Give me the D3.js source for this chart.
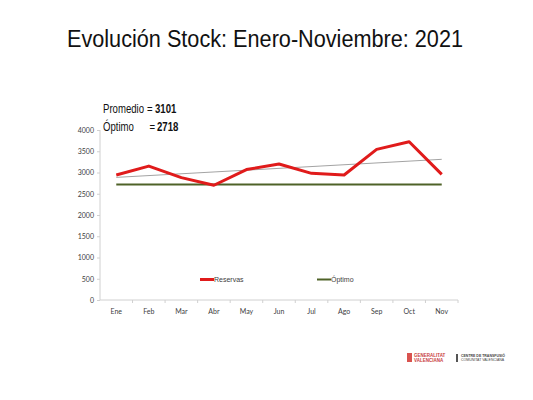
<!DOCTYPE html>
<html lang="es">
<head>
  <meta charset="utf-8">
  <script src="https://d3js.org/d3.v7.min.js"></script>
  <style>
    body { margin: 0; background: #fff; }
    svg text { font-family: "Liberation Sans", Arial, sans-serif; }
    .axis text { font-family: Lato, "Open Sans", sans-serif; font-size: 7px; fill: #404040; }
    .axis path, .axis line { stroke: #d0d0d0; }
  </style>
</head>
<body>
  <svg id="chart" width="533" height="400"></svg>

  <script>
    // data
    const months = ["Ene", "Feb", "Mar", "Abr", "May", "Jun", "Jul", "Ago", "Sep", "Oct", "Nov"];
    const reservas = [2940, 3150, 2880, 2700, 3070, 3200, 2980, 2940, 3545, 3725, 2957];
    const optimo = 2718;
    const promedio = 3101;
    const trend = [2885, 3310];   // linear trend at Ene and Nov
    const yTicks = [0, 500, 1000, 1500, 2000, 2500, 3000, 3500, 4000];

    const svg = d3.select("#chart");

    // title (narrow look by squeezing)
    svg.append("text")
      .attr("x", 67).attr("y", 47)
      .attr("font-size", 23)
      .attr("textLength", 396)
      .attr("lengthAdjust", "spacingAndGlyphs")
      .attr("fill", "#111")
      .text("Evolución Stock: Enero-Noviembre: 2021");

    const x = d3.scaleBand().domain(months).range([100, 458]);
    const y = d3.scaleLinear().domain([0, 4000]).range([300, 130]);
    const cx = d => x(d) + x.bandwidth() / 2;

    // y axis
    const gy = svg.append("g").attr("class", "axis")
      .attr("transform", "translate(100,0)")
      .call(d3.axisLeft(y).tickValues(yTicks).tickFormat(d3.format("d")).tickSize(3).tickPadding(3));

    // x axis, ticks on the band edges
    const gx = svg.append("g").attr("class", "axis")
      .attr("transform", "translate(0,300)")
      .call(d3.axisBottom(x).tickSize(0).tickPadding(9));
    gx.selectAll(".edge")
      .data(months)
      .join("line")
      .attr("x1", (d, i) => x.range()[0] + (i + 1) * x.step())
      .attr("x2", (d, i) => x.range()[0] + (i + 1) * x.step())
      .attr("y1", 0).attr("y2", 3)
      .attr("stroke", "#d0d0d0");
    gx.select(".domain").attr("d", "M100,0H458");
    gy.select(".domain").attr("d", "M0,130V300");

    // optimum line
    svg.append("line")
      .attr("x1", cx(months[0])).attr("x2", cx(months[months.length - 1]))
      .attr("y1", y(optimo)).attr("y2", y(optimo))
      .attr("stroke", "#4f6228").attr("stroke-width", 2);

    // trend line
    svg.append("line")
      .attr("x1", cx(months[0])).attr("x2", cx(months[months.length - 1]))
      .attr("y1", y(trend[0])).attr("y2", y(trend[1]))
      .attr("stroke", "#8c8c8c").attr("stroke-width", 0.8);

    // reservas line
    svg.append("path")
      .datum(reservas)
      .attr("fill", "none")
      .attr("stroke", "#e01b1b")
      .attr("stroke-width", 3)
      .attr("stroke-linejoin", "round")
      .attr("d", d3.line().x((d, i) => cx(months[i])).y(d => y(d)));

    // summary text, squeezed horizontally like a narrow font
    const info = [
      { label: "Promedio", eq: 55, value: promedio, vx: 65, y: 113 },
      { label: "Óptimo", eq: 58, value: optimo, vx: 67.5, y: 131 }
    ];
    const sum = svg.append("g").attr("transform", "translate(103,0) scale(0.8,1)");
    info.forEach(r => {
      const t = sum.append("text").attr("x", 0).attr("y", r.y)
        .attr("font-size", 12).attr("fill", "#111");
      t.append("tspan").text(r.label);
      t.append("tspan").attr("x", r.eq).text("=");
      t.append("tspan").attr("x", r.vx).attr("font-weight", "bold").text(r.value);
    });

    // legend
    const legend = [["Reservas", "#e01b1b", 3, 200], ["Óptimo", "#4f6228", 2, 317]];
    legend.forEach(l => {
      svg.append("line")
        .attr("x1", l[3]).attr("x2", l[3] + 14)
        .attr("y1", 279.5).attr("y2", 279.5)
        .attr("stroke", l[1]).attr("stroke-width", l[2]);
      svg.append("text")
        .attr("x", l[3] + 14).attr("y", 282)
        .attr("font-family", "Lato, 'Open Sans', sans-serif")
        .attr("font-size", 7).attr("fill", "#404040")
        .text(l[0]);
    });

    // logos at the bottom right
    svg.append("rect").attr("x", 407).attr("y", 353).attr("width", 5).attr("height", 9).attr("fill", "#d9534f");
    svg.append("text").attr("x", 414).attr("y", 357).attr("font-size", 4.5).attr("font-weight", "bold").attr("fill", "#c94040").text("GENERALITAT");
    svg.append("text").attr("x", 414).attr("y", 362).attr("font-size", 4.5).attr("font-weight", "bold").attr("fill", "#c94040").text("VALENCIANA");
    svg.append("rect").attr("x", 456).attr("y", 354).attr("width", 2).attr("height", 8).attr("fill", "#555");
    svg.append("text").attr("x", 461).attr("y", 357).attr("font-size", 3.5).attr("font-weight", "bold").attr("fill", "#444").text("CENTRE DE TRANSFUSIÓ");
    svg.append("text").attr("x", 461).attr("y", 361).attr("font-size", 3.5).attr("fill", "#444").text("COMUNITAT VALENCIANA");
  </script>
</body>
</html>
